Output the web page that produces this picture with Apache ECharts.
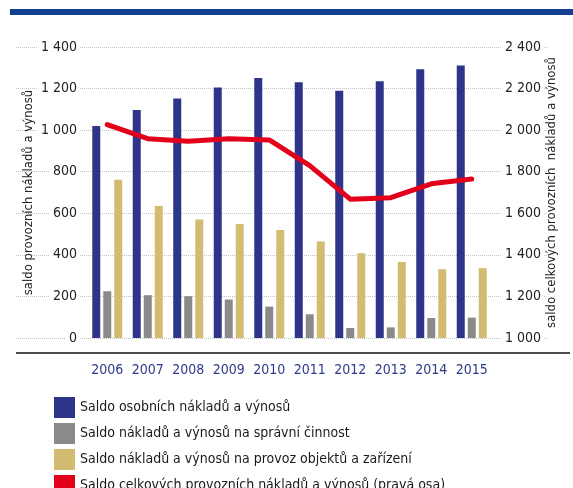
<!DOCTYPE html>
<html>
<head>
<meta charset="utf-8">
<script src="https://cdn.jsdelivr.net/npm/echarts@6/dist/echarts.min.js"></script>
<style>
  html, body { margin: 0; padding: 0; background: #fff; }
  #main { width: 573px; height: 488px; }
</style>
</head>
<body>
<div id="main"></div>
<script>
    // roky na ose x
    var years = ['2006', '2007', '2008', '2009', '2010', '2011', '2012', '2013', '2014', '2015'];
    // saldo osobních nákladů a výnosů
    var osobni = [1020, 1097, 1152, 1205, 1251, 1230, 1190, 1235, 1293, 1311];
    // saldo na správní činnost
    var spravni = [225, 206, 201, 185, 151, 114, 48, 51, 96, 98];
    // saldo na provoz objektů a zařízení
    var provoz = [761, 635, 570, 548, 520, 464, 408, 366, 331, 336];
    // saldo celkových provozních nákladů a výnosů (pravá osa)
    var celkem = [2027, 1959, 1946, 1959, 1953, 1829, 1668, 1675, 1742, 1765];

    var seriesNames = [
        'Saldo osobních nákladů a výnosů',
        'Saldo nákladů a výnosů na správní činnost',
        'Saldo nákladů a výnosů na provoz objektů a zařízení',
        'Saldo celkových provozních nákladů a výnosů (pravá osa)'
    ];

    var font = "'Liberation Sans Narrow', 'DejaVu Sans Condensed', 'Noto Sans', sans-serif";

    // 1400 -> "1 400"
    function fmt(v) {
        if (v >= 1000) {
            return Math.floor(v / 1000) + ' ' + String(v % 1000).padStart(3, '0');
        }
        return String(v);
    }

    var chart = echarts.init(document.getElementById('main'));

    var labelStyle = {
        color: '#222',
        fontSize: 14,
        fontFamily: font,
        backgroundColor: '#fff',
        padding: [0, 3]
    };

    var option = {
        animation: false,
        textStyle: { fontFamily: font },
        graphic: [
            // modrý pruh nahoře
            { type: 'rect', shape: { x: 10, y: 9, width: 563, height: 6 }, style: { fill: '#123f8f' } },
            // černá linka pod grafem
            { type: 'line', shape: { x1: 16, y1: 353, x2: 570, y2: 353 }, style: { stroke: '#111', lineWidth: 1.5 } }
        ],
        legend: {
            orient: 'vertical',
            left: 49,
            top: 392,
            height: 130,
            itemWidth: 21,
            itemHeight: 21,
            itemGap: 5,
            icon: 'rect',
            data: seriesNames,
            textStyle: { color: '#1a1a1a', fontSize: 14, fontFamily: font }
        },
        grid: [
            // mřížka přes celou šířku
            { left: 16, right: 25, top: 47, bottom: 150, outerBoundsMode: 'none' },
            // sloupce
            { left: 87, right: 81, top: 47, bottom: 150, outerBoundsMode: 'none' }
        ],
        xAxis: [
            { type: 'category', gridIndex: 0, data: years, show: false },
            {
                type: 'category',
                gridIndex: 1,
                data: years,
                axisLine: { show: false },
                axisTick: { show: false },
                axisLabel: { interval: 0, color: '#2e3a8c', fontSize: 14, fontFamily: font, margin: 25 }
            }
        ],
        yAxis: [
            {
                type: 'value', gridIndex: 0, min: 0, max: 1400, interval: 200,
                axisLine: { show: false }, axisTick: { show: false }, axisLabel: { show: false },
                splitLine: { lineStyle: { color: '#c4c4c4', type: 'dotted', width: 1 } }
            },
            {
                type: 'value', gridIndex: 0, position: 'right', min: 1000, max: 2400, interval: 200,
                axisLine: { show: false }, axisTick: { show: false }, axisLabel: { show: false },
                splitLine: { show: false }
            },
            {
                type: 'value', gridIndex: 1, min: 0, max: 1400, interval: 200, z: 5,
                name: 'saldo provozních nákladů a výnosů',
                nameLocation: 'middle', nameRotate: 90, nameGap: 52, nameMoveOverlap: false,
                nameTextStyle: { color: '#222', fontSize: 13, fontFamily: font },
                axisLine: { show: false }, axisTick: { show: false },
                splitLine: { show: false },
                axisLabel: Object.assign({ margin: 7, formatter: fmt }, labelStyle)
            },
            {
                type: 'value', gridIndex: 1, position: 'right', min: 1000, max: 2400, interval: 200, z: 5,
                name: 'saldo celkových provozních  nákladů a výnosů',
                nameLocation: 'middle', nameRotate: 90, nameGap: 53, nameMoveOverlap: false,
                nameTextStyle: { color: '#222', fontSize: 13, fontFamily: font },
                axisLine: { show: false }, axisTick: { show: false },
                splitLine: { show: false },
                axisLabel: Object.assign({ margin: 10, formatter: fmt }, labelStyle)
            }
        ],
        series: [
            {
                name: seriesNames[0], type: 'bar', xAxisIndex: 1, yAxisIndex: 2,
                data: osobni, barWidth: 8, barGap: '37.5%',
                itemStyle: { color: '#2e3589' }
            },
            {
                name: seriesNames[1], type: 'bar', xAxisIndex: 1, yAxisIndex: 2,
                data: spravni, barWidth: 8, barGap: '37.5%',
                itemStyle: { color: '#8a8a8a' }
            },
            {
                name: seriesNames[2], type: 'bar', xAxisIndex: 1, yAxisIndex: 2,
                data: provoz, barWidth: 8, barGap: '37.5%',
                itemStyle: { color: '#d2bc72' }
            },
            {
                name: seriesNames[3], type: 'line', xAxisIndex: 1, yAxisIndex: 3,
                data: celkem, symbol: 'none', z: 10,
                lineStyle: { color: '#e2001a', width: 5, cap: 'round', join: 'round' },
                itemStyle: { color: '#e2001a' }
            }
        ]
    };

    chart.setOption(option);
</script>
</body>
</html>
